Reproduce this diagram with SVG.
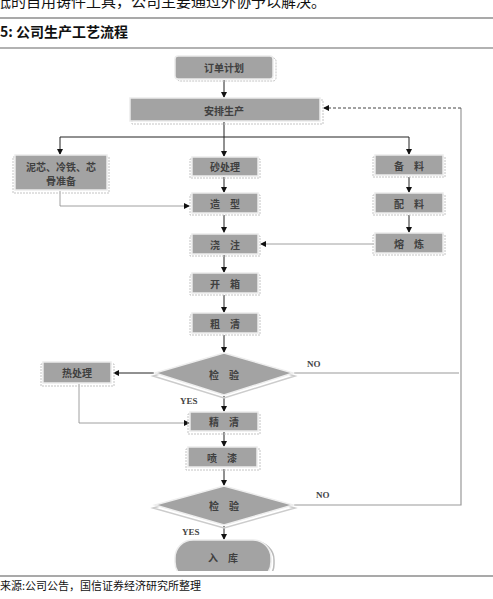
<svg xmlns="http://www.w3.org/2000/svg" width="493" height="599" viewBox="0 0 493 599">
<defs>
<style>
.bx{fill:#a3a3a3;stroke:#ececec;stroke-width:1.5}
.sh{fill:none;stroke:#c4c4c4;stroke-width:1;stroke-dasharray:2 1}
.t{font-family:"Noto Sans CJK SC",sans-serif;font-size:10px;font-weight:bold;fill:#404040;text-anchor:middle;dominant-baseline:central}
.en{font-family:"Liberation Serif",serif;font-size:9px;font-weight:bold;fill:#444}
.ln{fill:none;stroke:#222;stroke-width:1}
.lg{fill:none;stroke:#888;stroke-width:0.8}
.hd{font-family:"Noto Sans CJK SC",sans-serif;fill:#111}
</style>
<marker id="ar" markerWidth="6" markerHeight="6" refX="5" refY="3" orient="auto" markerUnits="userSpaceOnUse">
<path d="M0,0 L6,3 L0,6 z" fill="#111"/>
</marker>
<clipPath id="cut"><rect x="0" y="0" width="493" height="571"/></clipPath>
</defs>
<rect width="493" height="599" fill="#fff"/>

<g id="header">
<text class="hd" x="-4" y="7" font-size="15">低的自用铸件工具，公司主要通过外协予以解决。</text>
<line x1="0" y1="18" x2="493" y2="18" stroke="#555" stroke-width="1.2"/>
<text class="hd" x="0" y="37" font-size="14" font-weight="bold">5: 公司生产工艺流程</text>
<line x1="0" y1="48" x2="493" y2="48" stroke="#666" stroke-width="1.2"/>
</g>

<g id="connectors">
<path class="ln" d="M224,80 V97" marker-end="url(#ar)"/>
<path class="ln" d="M224,122 V137 M60,137 H409"/>
<path class="ln" d="M60,137 V154" marker-end="url(#ar)"/>
<path class="ln" d="M224,137 V156" marker-end="url(#ar)"/>
<path class="ln" d="M409,137 V154" marker-end="url(#ar)"/>
<path class="ln" d="M224,177 V192" marker-end="url(#ar)"/>
<path class="ln" d="M224,215 V232" marker-end="url(#ar)"/>
<path class="ln" d="M224,255 V272" marker-end="url(#ar)"/>
<path class="ln" d="M224,295 V312" marker-end="url(#ar)"/>
<path class="ln" d="M224,335 V352" marker-end="url(#ar)"/>
<path class="ln" d="M224,396 V411" marker-end="url(#ar)"/>
<path class="ln" d="M224,432 V446" marker-end="url(#ar)"/>
<path class="ln" d="M224,469 V485" marker-end="url(#ar)"/>
<path class="ln" d="M224,526 V539" marker-end="url(#ar)"/>
<path class="ln" d="M409,177 V192" marker-end="url(#ar)"/>
<path class="ln" d="M409,215 V232" marker-end="url(#ar)"/>
<path class="lg" d="M60,191 V206 H189" marker-end="url(#ar)"/>
<path class="lg" d="M374,244 H261" marker-end="url(#ar)"/>
<path class="ln" d="M154,373 H114" stroke="#444" marker-end="url(#ar)"/>
<path class="lg" d="M79,384 V423 H189" marker-end="url(#ar)"/>
<path d="M294,373 H459" fill="none" stroke="#999" stroke-width="1.2"/>
<path d="M294,505 H461 V108" fill="none" stroke="#999" stroke-width="1.2"/>
<path d="M461,108 H324" fill="none" stroke="#444" stroke-width="1" stroke-dasharray="3 2" marker-end="url(#ar)"/>
<text class="en" x="307" y="367">NO</text>
<text class="en" x="316" y="498">NO</text>
<text class="en" x="180" y="404">YES</text>
<text class="en" x="182" y="535">YES</text>
</g>

<g id="n-order"><rect class="sh" x="177" y="58" width="99" height="23" rx="3"/><rect class="bx" x="175" y="56" width="98" height="23" rx="3"/><text class="t" x="224" y="67.5">订单计划</text></g>
<g id="n-plan"><rect class="sh" x="132" y="100" width="191" height="24"/><rect class="bx" x="130" y="98" width="190" height="23"/><text class="t" x="224" y="110">安排生产</text></g>
<g id="n-core"><rect class="sh" x="13" y="157" width="96" height="36"/><rect class="bx" x="15" y="155" width="92" height="35"/><text class="t" x="61" y="166">泥芯、冷铁、芯</text><text class="t" x="61" y="180">骨准备</text></g>
<g id="n-sand"><rect class="sh" x="190" y="159" width="70" height="19"/><rect class="bx" x="192" y="157" width="66" height="19"/><text class="t" x="225" y="166.5">砂处理</text></g>
<g id="n-mold"><rect class="sh" x="190" y="195" width="70" height="20"/><rect class="bx" x="192" y="193" width="66" height="20"/><text class="t" x="225" y="203">造　型</text></g>
<g id="n-pour"><rect class="sh" x="190" y="236" width="70" height="20"/><rect class="bx" x="192" y="234" width="66" height="20"/><text class="t" x="225" y="244">浇　注</text></g>
<g id="n-open"><rect class="sh" x="190" y="275" width="70" height="20"/><rect class="bx" x="192" y="273" width="66" height="20"/><text class="t" x="225" y="283">开　箱</text></g>
<g id="n-rough"><rect class="sh" x="190" y="315" width="70" height="20"/><rect class="bx" x="192" y="313" width="66" height="20"/><text class="t" x="225" y="323">粗　清</text></g>
<g id="n-check1"><path d="M224,356 L295,376 L224,398 L153,376 z" fill="none" stroke="#ccc" stroke-width="1.5"/><path d="M224,353 L293,373 L224,395 L155,373 z" fill="#a3a3a3" stroke="#eee" stroke-width="1.5"/><text class="t" x="224" y="374">检　验</text></g>
<g id="n-heat"><rect class="sh" x="41" y="364" width="73" height="22"/><rect class="bx" x="43" y="362" width="68" height="21"/><text class="t" x="77" y="372.5">热处理</text></g>
<g id="n-fine"><rect class="sh" x="188" y="414" width="72" height="20"/><rect class="bx" x="190" y="412" width="68" height="19"/><text class="t" x="224" y="421.5">精　清</text></g>
<g id="n-paint"><rect class="sh" x="186" y="449" width="74" height="21"/><rect class="bx" x="188" y="447" width="69" height="20"/><text class="t" x="222" y="457">喷　漆</text></g>
<g id="n-check2"><path d="M224,489 L295,508 L224,528 L153,508 z" fill="none" stroke="#ccc" stroke-width="1.5"/><path d="M224,486 L293,505 L224,525 L155,505 z" fill="#a3a3a3" stroke="#eee" stroke-width="1.5"/><text class="t" x="224" y="505">检　验</text></g>
<g id="n-store" clip-path="url(#cut)"><rect x="177" y="542" width="97" height="40" rx="18" fill="none" stroke="#bbb" stroke-width="1.5"/><rect class="bx" x="175" y="540" width="96" height="40" rx="18"/><text class="t" x="223" y="557">入　库</text></g>
<g id="n-prep"><rect class="sh" x="373" y="157" width="72" height="20"/><rect class="bx" x="375" y="155" width="68" height="20"/><text class="t" x="409" y="165">备　料</text></g>
<g id="n-mix"><rect class="sh" x="373" y="195" width="72" height="20"/><rect class="bx" x="375" y="193" width="68" height="20"/><text class="t" x="409" y="203">配　料</text></g>
<g id="n-melt"><rect class="sh" x="373" y="235" width="72" height="20"/><rect class="bx" x="375" y="233" width="68" height="20"/><text class="t" x="409" y="243">熔　炼</text></g>

<g id="footer">
<line x1="0" y1="576" x2="493" y2="576" stroke="#555" stroke-width="1.2"/>
<text class="hd" x="0" y="590" font-size="11">来源:公司公告，国信证券经济研究所整理</text>
</g>
</svg>
